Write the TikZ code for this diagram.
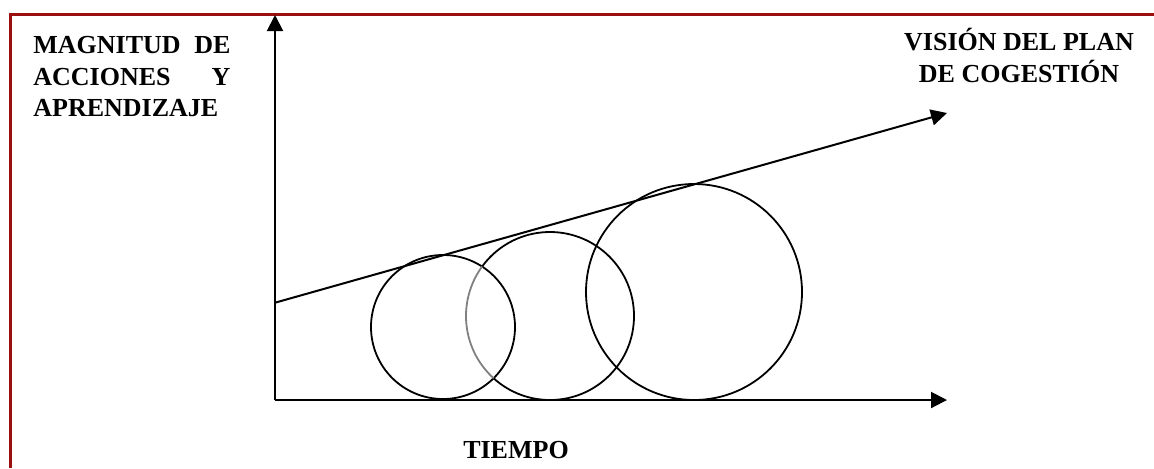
\documentclass[tikz,border=0pt]{standalone}
\usepackage{fontspec}
\setmainfont{Liberation Serif}
\usepackage{xcolor}
\usetikzlibrary{arrows.meta,positioning}
\definecolor{FrameRed}{HTML}{9A1010}

\begin{document}
\begin{tikzpicture}[x=0.5pt,y=-0.5pt,
  font=\fontsize{13}{15.75}\selectfont\bfseries,
  >={Triangle[length=8pt,width=8pt]},
  axis/.style={->,line width=1pt},
  bubble/.style={circle,draw,line width=0.9pt,inner sep=0pt},
  label/.style={inner sep=0pt}]
  \useasboundingbox (0,0) rectangle (1154,468);
  % frame
  \draw[FrameRed,line width=1.5pt] (10,468) -- (10,14) -- (1154,14);
  % axes
  \coordinate (orig) at (275,400);
  \coordinate (ytop) at (275,15);
  \coordinate (xend) at (947,400);
  \coordinate (vstart) at (275,302.7);
  \coordinate (vend) at (947,113);
  \draw[axis] (orig) -- (ytop);
  \draw[axis] (orig) -- (xend);
  \draw[axis] (vstart) -- (vend);
  % bubbles
  \node[bubble,minimum size=72pt] (c1) at (443,327) {};
  \node[bubble,draw=none,minimum size=84pt] (c2) at (550,316) {};
  \node[bubble,minimum size=108pt] (c3) at (694,292) {};
  \begin{scope}[even odd rule]
    \clip (0,0) rectangle (1154,468) (c1.center) circle[radius=72];
    \draw[line width=0.9pt] (c2.center) circle[radius=84];
  \end{scope}
  \begin{scope}
    \clip (c1.center) circle[radius=72];
    \draw[gray,line width=0.9pt] (c2.center) circle[radius=84];
  \end{scope}
  % texts
  \node[label,anchor=north west,text width=98.5pt,align=justify] (ylab) at (33,36)
    {MAGNITUD DE ACCIONES Y APRENDIZAJE};
  \node[label,anchor=north,align=center] (vlab) at (1019,28)
    {VISIÓN DEL PLAN\\DE COGESTIÓN};
  \node[label,anchor=base] (xlab) at (516,458) {TIEMPO};
\end{tikzpicture}
\end{document}
